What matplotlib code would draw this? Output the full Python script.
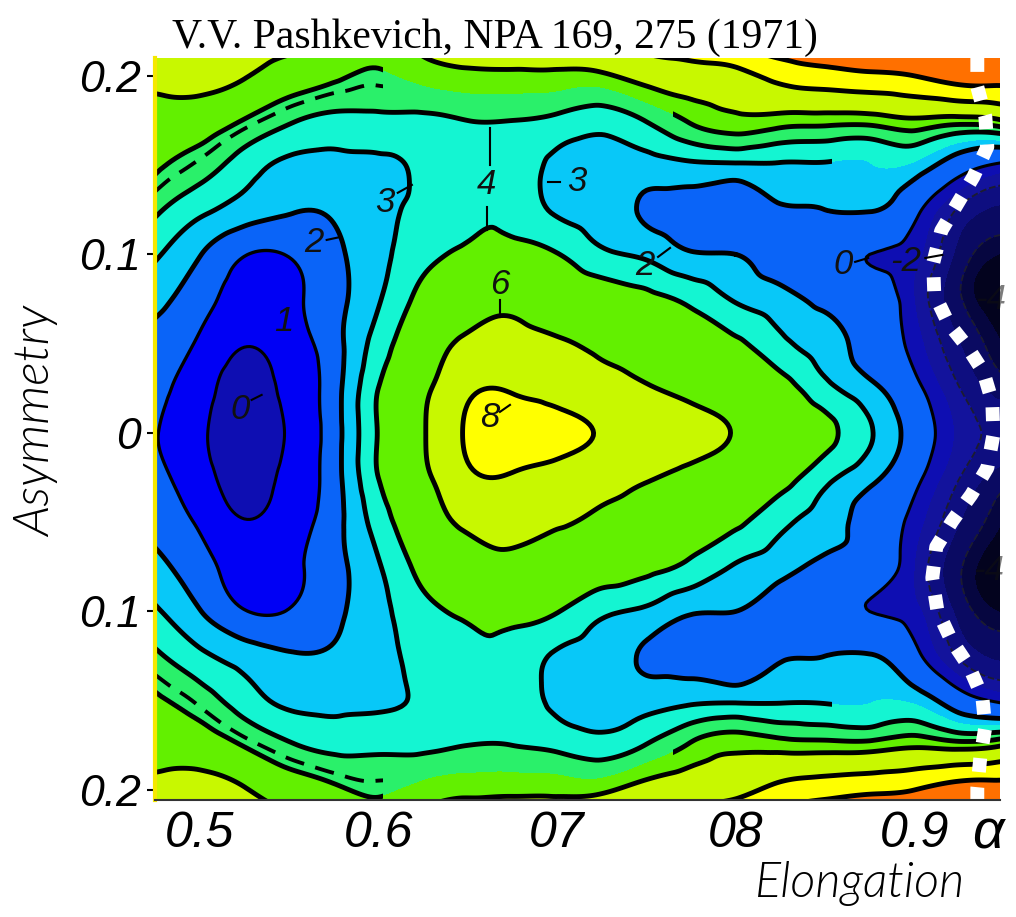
import numpy as np
import matplotlib
matplotlib.use("Agg")
import matplotlib.pyplot as plt
import matplotlib.tri as mtri
from matplotlib.path import Path
from matplotlib import font_manager

# ---------------- data ----------------
elongation = [0.475, 0.500, 0.525, 0.550, 0.575, 0.600, 0.625, 0.650, 0.675, 0.700,
              0.725, 0.750, 0.775, 0.800, 0.825, 0.850, 0.875, 0.900, 0.925, 0.950]
asymmetry = [0.225, 0.200, 0.175, 0.150, 0.125, 0.100, 0.075, 0.050, 0.025, 0.000,
             -0.025, -0.050, -0.075, -0.100, -0.125, -0.150, -0.175, -0.200, -0.225]
# energy (MeV) on the grid, one row per asymmetry value
energy = [
    [7.0, 6.9, 6.5, 6.3, 6.0, 5.6, 6.6, 7.0, 7.0, 7.6, 9.0, 9.3, 10.5, 12.0, 12.5, 13.0, 13.5, 14.0, 15.0, 16.0],
    [6.3, 6.3, 6.05, 5.6, 5.2, 4.85, 5.35, 5.7, 5.75, 5.7, 5.75, 6.65, 7.05, 7.4, 8.6, 9.2, 9.6, 10.0, 11.0, 11.0],
    [5.6, 5.55, 4.95, 4.15, 3.7, 3.75, 3.75, 4.0, 4.0, 3.75, 3.4, 4.05, 5.15, 5.7, 5.5, 5.4, 5.4, 5.8, 5.5, 6.0],
    [5.15, 4.5, 3.5, 2.8, 2.75, 2.85, 3.15, 3.6, 3.6, 2.75, 2.55, 2.6, 2.8, 2.85, 2.9, 2.9, 2.95, 2.8, 0.95, -0.3],
    [4.2, 3.25, 2.55, 2.1, 2.15, 2.75, 3.2, 3.7, 3.75, 2.85, 2.55, 1.85, 1.6, 1.4, 1.9, 2.0, 2.1, 0.5, -2.15, -3.2],
    [3.15, 2.05, 1.05, 1.05, 1.75, 2.7, 3.65, 4.2, 4.35, 4.05, 3.2, 2.8, 2.1, 2.0, 1.5, 1.2, 0.0, -0.7, -3.35, -4.55],
    [2.3, 1.4, 0.55, 0.75, 1.65, 2.9, 4.35, 5.2, 5.6, 5.1, 4.75, 4.3, 3.75, 2.9, 2.35, 1.75, 1.1, -1.0, -3.85, -5.0],
    [1.65, 0.85, 0.05, 0.5, 1.6, 3.45, 5.0, 6.35, 6.55, 6.2, 5.7, 5.25, 4.55, 4.2, 3.25, 2.5, 1.4, -0.5, -2.95, -4.55],
    [1.25, 0.4, -0.35, 0.25, 1.57, 4.0, 5.6, 7.65, 7.85, 7.5, 6.85, 6.15, 5.5, 5.1, 4.5, 3.3, 2.3, 0.5, -1.95, -3.55],
    [1.05, 0.2, -0.55, 0.1, 1.55, 4.05, 5.85, 8.2, 8.6, 8.3, 7.9, 7.15, 6.55, 5.9, 5.05, 4.3, 3.1, 1.3, -1.25, -2.1],
    [1.25, 0.4, -0.35, 0.25, 1.57, 4.0, 5.6, 7.65, 7.85, 7.5, 6.85, 6.15, 5.5, 5.1, 4.5, 3.3, 2.3, 0.5, -1.95, -3.55],
    [1.65, 0.85, 0.05, 0.5, 1.6, 3.45, 5.0, 6.35, 6.55, 6.2, 5.7, 5.25, 4.55, 4.2, 3.25, 2.5, 1.4, -0.5, -2.95, -4.55],
    [2.3, 1.4, 0.55, 0.75, 1.65, 2.9, 4.35, 5.2, 5.6, 5.1, 4.75, 4.3, 3.75, 2.9, 2.35, 1.75, 1.1, -1.0, -3.85, -5.0],
    [3.15, 2.05, 1.05, 1.05, 1.75, 2.7, 3.65, 4.2, 4.35, 4.05, 3.2, 2.8, 2.1, 2.0, 1.5, 1.2, 0.0, -0.7, -3.35, -4.55],
    [4.2, 3.25, 2.55, 2.1, 2.15, 2.75, 3.2, 3.7, 3.75, 2.85, 2.55, 1.85, 1.6, 1.4, 1.9, 2.0, 2.1, 0.5, -2.15, -3.2],
    [5.15, 4.5, 3.5, 2.8, 2.75, 2.85, 3.15, 3.6, 3.6, 2.75, 2.55, 2.6, 2.8, 2.85, 2.9, 2.9, 2.95, 2.8, 0.95, -0.3],
    [5.6, 5.55, 4.95, 4.15, 3.7, 3.75, 3.75, 4.0, 4.0, 3.75, 3.4, 4.05, 5.15, 5.7, 5.5, 5.4, 5.4, 5.8, 5.5, 6.0],
    [6.3, 6.3, 6.05, 5.6, 5.2, 4.85, 5.35, 5.7, 5.75, 5.7, 5.75, 6.65, 7.05, 7.4, 8.6, 9.2, 9.6, 10.0, 11.0, 11.0],
    [7.0, 6.9, 6.5, 6.3, 6.0, 5.6, 6.6, 7.0, 7.0, 7.6, 9.0, 9.3, 10.5, 12.0, 12.5, 13.0, 13.5, 14.0, 15.0, 16.0],
]

# fission path (white dotted overlay)
path_elongation = [0.9353, 0.9353, 0.9398, 0.9409, 0.9331, 0.9241, 0.9151, 0.9106, 0.9112, 0.9190,
                   0.9297, 0.9387, 0.9437, 0.9443, 0.9409, 0.9319, 0.9213, 0.9123, 0.9101, 0.9129,
                   0.9207, 0.9308, 0.9381, 0.9398, 0.9370, 0.9353, 0.9353]
path_asymmetry = [0.2100, 0.1938, 0.1770, 0.1602, 0.1434, 0.1283, 0.1132, 0.0952, 0.0779, 0.0616,
                  0.0482, 0.0342, 0.0174, -0.0011, -0.0196, -0.0347, -0.0493, -0.0639, -0.0812, -0.0992,
                  -0.1160, -0.1311, -0.1479, -0.1647, -0.1815, -0.1989, -0.2056]

x_ticks = [0.5, 0.6, 0.7, 0.8, 0.9]
x_ticklabels = ["0.5", "0.6", "07", "08", "0.9"]
y_ticks = [0.2, 0.1, 0.0, -0.1, -0.2]
y_ticklabels = ["0.2", "0.1", "0", "0.1", "0.2"]

contour_label_text = ["0", "1", "2", "3", "4", "6", "8", "3", "2", "0", "-2", "-4", "-4"]

# ---------------- layout / style ----------------
label_pos = [(0.5224, 0.0129), (0.5471, 0.0622), (0.5639, 0.1064), (0.6036, 0.1289),
             (0.6608, 0.1389), (0.6681, 0.0829), (0.6625, 0.0084), (0.7112, 0.1406),
             (0.7493, 0.0936), (0.8602, 0.0941), (0.8950, 0.0958), (0.9426, 0.0745),
             (0.9415, -0.0768)]
label_ticks = [((0.6625, 0.1501), (0.6625, 0.1709)), ((0.6608, 0.1266), (0.6608, 0.1137)),
               ((0.6681, 0.0745), (0.6681, 0.0650)), ((0.6109, 0.1345), (0.6188, 0.1389)),
               ((0.5711, 0.1081), (0.5790, 0.1098)), ((0.7017, 0.1406), (0.6950, 0.1406)),
               ((0.7566, 0.0986), (0.7633, 0.1036)), ((0.8669, 0.0958), (0.8742, 0.0980)),
               ((0.9062, 0.0980), (0.9157, 0.0997)), ((0.6681, 0.0118), (0.6737, 0.0157)),
               ((0.5291, 0.0185), (0.5347, 0.0213))]

fill_levels = [-7, -4.5, -4, -3, -2, -1, 0, 1, 2, 3, 4, 5, 6, 8, 10, 20]
fill_colors = ['#03031e', '#060640', '#0a0a62', '#0e0e80', '#13139c', '#0e0eb2',
               '#0000f5', '#0a64f8', '#08c8f8', '#14f5d2', '#2af06a', '#62f000',
               '#c8f800', '#ffff00', '#ff7000']

names = {f.name for f in font_manager.fontManager.ttflist}
sans = 'Liberation Sans' if 'Liberation Sans' in names else 'DejaVu Sans'
tick_family = [sans, 'DejaVu Sans']


def light_italic(size):
    for fam in ['Lato', 'Roboto', 'Open Sans', 'Noto Sans']:
        for f in font_manager.fontManager.ttflist:
            if f.name != fam or f.style != 'italic':
                continue
            w = f.weight if isinstance(f.weight, int) else font_manager.weight_dict.get(f.weight, 400)
            if w == 300:
                return font_manager.FontProperties(fname=f.fname, size=size)
    return font_manager.FontProperties(family='DejaVu Sans', style='oblique', size=size)


W, H = 1016, 917
fig = plt.figure(figsize=(W / 100, H / 100), dpi=100)
ax = fig.add_axes([155 / W, 1 - 800 / H, 845 / W, 742 / H])

# ---------------- surface ----------------
E = np.array(energy)
A, B = np.meshgrid(np.array(elongation), np.array(asymmetry))
tri = mtri.Triangulation(A.ravel(), B.ravel())
refiner = mtri.UniformTriRefiner(tri)
tri_f, z_f = refiner.refine_field(E.ravel(), subdiv=4)

ax.tricontourf(tri_f, z_f, levels=fill_levels, colors=fill_colors)

# the colourist painted 0..2 on the right side in one shade, 4..6 round the peak in one shade
cs_r = ax.tricontourf(tri_f, z_f, levels=[0, 2], colors=['#0a64f8'])
cs_r.set_clip_path(Path([(0.62, -1), (2, -1), (2, 1), (0.62, 1), (0.62, -1)], closed=True),
                   ax.transData)
cs_c = ax.tricontourf(tri_f, z_f, levels=[4, 6], colors=['#62f000'])
cs_c.set_clip_path(Path([(0, -0.117), (2, -0.117), (2, 0.117), (0, 0.117), (0, -0.117)], closed=True),
                   ax.transData)


def rect(x0, y0, x1, y1):
    return Path([(x0, y0), (x1, y0), (x1, y1), (x0, y1), (x0, y0)], closed=True)


def clip(cs, rects):
    cs.set_clip_path(Path.make_compound_path(*rects), ax.transData)


LW = 3.5
ax.tricontour(tri_f, z_f, levels=[2, 4, 6, 8, 10], colors='black', linewidths=LW)
c3 = ax.tricontour(tri_f, z_f, levels=[3], colors='black', linewidths=LW)
clip(c3, [rect(0.3, -0.3, 0.854, 0.3), rect(0.854, -0.14, 1.1, 0.14)])
c5 = ax.tricontour(tri_f, z_f, levels=[5], colors='black', linewidths=LW)
clip(c5, [rect(0.3, 0.117, 0.6025, 0.3), rect(0.3, -0.3, 0.6025, -0.117),
          rect(0.765, 0.117, 1.1, 0.3), rect(0.765, -0.3, 1.1, -0.117)])
cd = ax.tricontour(tri_f, z_f, levels=[4.65], colors='black', linewidths=2.8,
                   linestyles=[(0, (5, 3))])
clip(cd, [rect(0.3, 0.117, 0.6025, 0.3), rect(0.3, -0.3, 0.6025, -0.117)])
c1 = ax.tricontour(tri_f, z_f, levels=[1], colors='black', linewidths=2.4)
clip(c1, [rect(0.3, -0.3, 0.62, 0.3)])
ax.tricontour(tri_f, z_f, levels=[0], colors='black', linewidths=2.2)
ax.tricontour(tri_f, z_f, levels=[-4, -2], colors='#1c1c30', linewidths=1.3)

# fission path
ax.plot(path_elongation, path_asymmetry, color='white', lw=10,
        linestyle=(0, (1.0, 1.1)), dash_capstyle='butt', solid_capstyle='butt')

# contour labels
for txt, (x, y) in zip(contour_label_text, label_pos):
    alpha = 0.55 if txt == '-4' else 1.0
    ax.text(x, y, txt, fontsize=25, family=tick_family, style='italic', color='#111111',
            alpha=alpha, ha='center', va='center')
for (p0, p1) in label_ticks:
    ax.plot([p0[0], p1[0]], [p0[1], p1[1]], color='black', lw=1.5)

# ---------------- axes ----------------
ax.set_xlim(0.475, 0.948)
ax.set_ylim(-0.2056, 0.210)
ax.set_xticks(x_ticks)
ax.set_xticklabels(x_ticklabels, family=tick_family, style='italic', fontsize=36)
ax.set_yticks(y_ticks)
ax.set_yticklabels(y_ticklabels, family=tick_family, style='italic', fontsize=32)
ax.tick_params(axis='x', length=0, pad=8)
ax.tick_params(axis='y', length=6, width=1.5, color='black', pad=4)
for s in ['top', 'right']:
    ax.spines[s].set_visible(False)
ax.spines['left'].set_color('#f5e800')
ax.spines['left'].set_linewidth(3)
ax.spines['bottom'].set_color('#333333')
ax.spines['bottom'].set_linewidth(1.5)

ax.text(0.9415, -0.012, 'α', transform=ax.get_xaxis_transform(), fontsize=40,
        family=tick_family, style='italic', ha='center', va='top')

fig.text(495 / W, 1 - 48 / H, 'V.V. Pashkevich, NPA 169, 275 (1971)',
         family=['Liberation Serif', 'DejaVu Serif'], fontsize=30, ha='center', va='baseline')
fig.text(37 / W, 1 - 421 / H, 'Asymmetry', fontproperties=light_italic(36),
         rotation=90, ha='center', va='center', color='black')
fig.text(860 / W, 1 - 897 / H, 'Elongation', fontproperties=light_italic(35),
         ha='center', va='baseline', color='black')

fig.savefig('out.png', dpi=100)
